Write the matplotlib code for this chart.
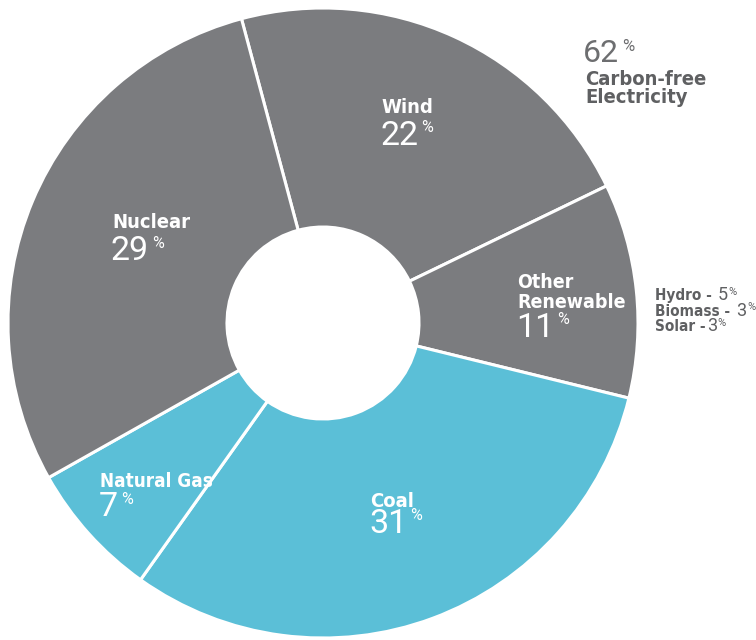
import numpy as np
import matplotlib.pyplot as plt

# Electricity generation mix
fuentes = ['Wind', 'Other Renewable', 'Coal', 'Natural Gas', 'Nuclear']
porcentajes = [22, 11, 31, 7, 29]
colores = ['#7b7c7f', '#7b7c7f', '#5bbfd7', '#5bbfd7', '#7b7c7f']

detalle_nombres = ['Hydro - ', 'Biomass - ', 'Solar -']
detalle_valores = [5, 3, 3]

carbono_libre = 62

TEXTO_OSCURO = '#5f6062'

NOMBRE = dict(family=['DejaVu Sans'], fontweight='bold', fontstretch='condensed')
NUMERO = dict(family=['Roboto', 'DejaVu Sans'], fontweight='normal')

W, H = 756, 640
fig = plt.figure(figsize=(W / 100, H / 100), dpi=100)
ax = fig.add_axes([0, 0, 1, 1])

def Y(y):
  return H - y

# Dona
cx, cy, R, r_hueco = 323, 323, 315, 96
ax.pie(porcentajes, colors=colores, startangle=105, counterclock=False,
       center=(cx, Y(cy)), radius=R, frame=True,
       wedgeprops=dict(width=R - r_hueco, edgecolor='white', linewidth=2.2))
ax.set_xlim(0, W)
ax.set_ylim(0, H)
ax.set_aspect('equal')
ax.axis('off')

renderer = fig.canvas.get_renderer()

def a_la_derecha(t, gap=1):
  # devuelve la x (en px) justo despues del texto t
  return t.get_window_extent(renderer).x1 + gap

def numero_con_pct(x, y_base, valor, color, tam, tam_pct):
  t = ax.text(x, Y(y_base), str(valor), fontsize=tam, color=color,
              va='baseline', ha='left', **NUMERO)
  top = y_base - tam * 100 / 72 * 0.72
  ax.text(a_la_derecha(t, 3), Y(top), '%', fontsize=tam_pct, color=color,
          va='top', ha='left', **NUMERO)

def etiqueta(lineas, x, y_base, valor, y_num, color='white',
             tam_nombre=14.5, tam_num=24.5, tam_pct=11.5, dy_linea=20):
  for k, linea in enumerate(lineas):
    ax.text(x, Y(y_base + k * dy_linea), linea, fontsize=tam_nombre, color=color,
            va='baseline', ha='left', **NOMBRE)
  numero_con_pct(x - 1, y_num, valor, color, tam_num, tam_pct)

etiqueta(['Wind'], 381, 113, porcentajes[0], 145)
etiqueta(['Other', 'Renewable'], 517, 288, porcentajes[1], 337, tam_nombre=14)
etiqueta(['Coal'], 370, 507, porcentajes[2], 533)
etiqueta(['Natural Gas'], 100, 487, porcentajes[3], 516, tam_nombre=13.5)
etiqueta(['Nuclear'], 112, 228, porcentajes[4], 260)

# Total libre de carbono
numero_con_pct(583, 62, carbono_libre, '#6d6e70', 23, 12)
for k, linea in enumerate(['Carbon-free', 'Electricity']):
  ax.text(585, Y(85 + k * 18), linea, fontsize=14.5, color=TEXTO_OSCURO,
          va='baseline', ha='left', **NOMBRE)

# Desglose de otras renovables
for i, (nom, val) in enumerate(zip(detalle_nombres, detalle_valores)):
  yb = 300 + i * 15.5
  t = ax.text(655, Y(yb), nom, fontsize=11, color=TEXTO_OSCURO,
              va='baseline', ha='left', **NOMBRE)
  n = ax.text(a_la_derecha(t, 1), Y(yb), str(val), fontsize=13, color=TEXTO_OSCURO,
              va='baseline', ha='left', **NUMERO)
  ax.text(a_la_derecha(n, 1), Y(yb - 13), '%', fontsize=8, color=TEXTO_OSCURO,
          va='top', ha='left', **NUMERO)

fig.savefig('out.png', dpi=100)
